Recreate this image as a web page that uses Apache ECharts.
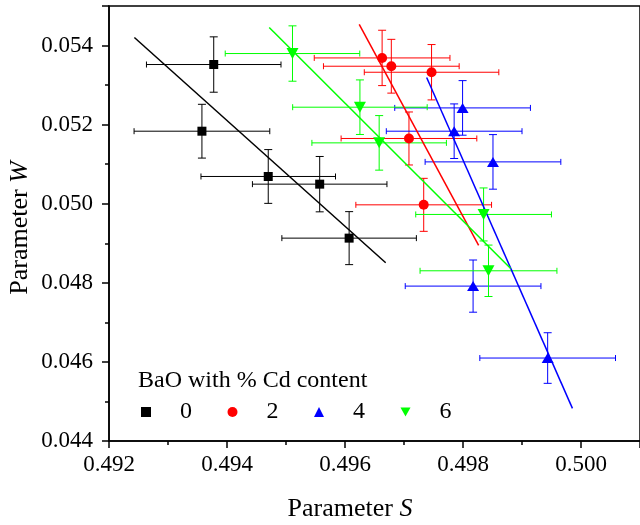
<!DOCTYPE html>
<html>
<head>
<meta charset="utf-8">
<script src="https://cdn.jsdelivr.net/npm/echarts@6/dist/echarts.min.js"></script>
<style>
  html, body { margin: 0; padding: 0; background: #fff; }
  #chart { width: 640px; height: 525px; }
</style>
</head>
<body>
<div id="chart"></div>
<script>
// Cd content groups (wt %) and their colours
const groupNames = ['0', '2', '4', '6'];
const groupColors = ['#000000', '#ff0000', '#0000ff', '#00ff00'];

// 0 % Cd
const s0 = [0.493775, 0.493575, 0.494699, 0.495571, 0.496070];
const w0 = [0.053520, 0.051834, 0.050689, 0.050495, 0.049130];
const sErr0 = [0.00114, 0.00115, 0.00114, 0.00114, 0.00114];
const wErr0 = [0.00070, 0.00068, 0.00068, 0.00070, 0.00067];
const fitS0 = [0.49243, 0.49669];
const fitW0 = [0.054202, 0.048506];

// 2 % Cd
const s2 = [0.496629, 0.496785, 0.497467, 0.497084, 0.497334];
const w2 = [0.053687, 0.053477, 0.053325, 0.051650, 0.049972];
const sErr2 = [0.00115, 0.00115, 0.00114, 0.00115, 0.00115];
const wErr2 = [0.00070, 0.00068, 0.00070, 0.00067, 0.00067];
const fitS2 = [0.496241, 0.498265];
const fitW2 = [0.054538, 0.048946];

// 4 % Cd
const s4 = [0.497993, 0.497850, 0.498508, 0.498171, 0.499435];
const w4 = [0.052423, 0.051834, 0.051058, 0.047917, 0.046098];
const sErr4 = [0.00115, 0.00115, 0.00115, 0.00115, 0.00115];
const wErr4 = [0.00069, 0.00069, 0.00069, 0.00066, 0.00064];
const fitS4 = [0.497384, 0.499855];
const fitW4 = [0.053191, 0.044826];

// 6 % Cd
const s6 = [0.495110, 0.496253, 0.496579, 0.498349, 0.498432];
const w6 = [0.053798, 0.052441, 0.051539, 0.049729, 0.048304];
const sErr6 = [0.00114, 0.00114, 0.00114, 0.00115, 0.00116];
const wErr6 = [0.00070, 0.00069, 0.00069, 0.00067, 0.00065];
const fitS6 = [0.494716, 0.498808];
const fitW6 = [0.054455, 0.048364];

// axis ranges
const sRange = [0.492, 0.501];
const sStep = 0.002;
const wRange = [0.044, 0.055];
const wStep = 0.002;

const groups = [
  { s: s0, w: w0, se: sErr0, we: wErr0, fs: fitS0, fw: fitW0, symbol: 'rect', size: 9 },
  { s: s2, w: w2, se: sErr2, we: wErr2, fs: fitS2, fw: fitW2, symbol: 'circle', size: 10 },
  { s: s4, w: w4, se: sErr4, we: wErr4, fs: fitS4, fw: fitW4, symbol: 'triangle', size: [12, 10] },
  { s: s6, w: w6, se: sErr6, we: wErr6, fs: fitS6, fw: fitW6, symbol: 'path://M0,0L12,0L6,11Z', size: [12, 11] }
];

const FONT = 'Liberation Serif';

function errorBars(color) {
  return function (params, api) {
    const s = api.value(0), w = api.value(1), se = api.value(2), we = api.value(3);
    const c = api.coord([s, w]);
    const l = api.coord([s - se, w]);
    const r = api.coord([s + se, w]);
    const t = api.coord([s, w + we]);
    const b = api.coord([s, w - we]);
    const capH = 3, capW = 4;
    const style = { stroke: color, lineWidth: 1, fill: null };
    const seg = (x1, y1, x2, y2) => ({ type: 'line', shape: { x1, y1, x2, y2 }, style });
    return {
      type: 'group',
      children: [
        seg(l[0], c[1], r[0], c[1]),
        seg(l[0], c[1] - capH, l[0], c[1] + capH),
        seg(r[0], c[1] - capH, r[0], c[1] + capH),
        seg(c[0], t[1], c[0], b[1]),
        seg(c[0] - capW, t[1], c[0] + capW, t[1]),
        seg(c[0] - capW, b[1], c[0] + capW, b[1])
      ]
    };
  };
}

const series = [];
groups.forEach((g, i) => {
  const color = groupColors[i];
  series.push({
    name: 'err ' + groupNames[i],
    type: 'custom',
    renderItem: errorBars(color),
    data: g.s.map((v, k) => [v, g.w[k], g.se[k], g.we[k]]),
    encode: { x: 0, y: 1 },
    z: 2,
    silent: true
  });
});
groups.forEach((g, i) => {
  series.push({
    name: 'fit ' + groupNames[i],
    type: 'line',
    data: g.fs.map((v, k) => [v, g.fw[k]]),
    showSymbol: false,
    lineStyle: { color: groupColors[i], width: 1.5 },
    z: 3,
    silent: true
  });
});
groups.forEach((g, i) => {
  series.push({
    name: groupNames[i],
    type: 'scatter',
    data: g.s.map((v, k) => [v, g.w[k]]),
    symbol: g.symbol,
    symbolSize: g.size,
    itemStyle: { color: groupColors[i], opacity: 1 },
    z: 4
  });
});

const axisCommon = {
  axisLine: { show: true, onZero: false, lineStyle: { color: '#000', width: 1.5 } },
  axisTick: { show: true, inside: false, length: 7, lineStyle: { color: '#000', width: 1.5 } },
  minorTick: { show: true, splitNumber: 2, length: 4, lineStyle: { color: '#000', width: 1.5 } },
  splitLine: { show: false },
  minorSplitLine: { show: false },
  axisLabel: {
    fontFamily: FONT, fontSize: 23, color: '#000',
    showMaxLabel: false,
    formatter: v => v.toFixed(3)
  }
};

const chart = echarts.init(document.getElementById('chart'), null, { renderer: 'canvas' });
chart.setOption({
  animation: false,
  backgroundColor: '#fff',
  grid: {
    left: 109, right: -10, top: 6, bottom: 84,
    show: true, borderColor: '#000', borderWidth: 1.5, backgroundColor: 'transparent'
  },
  xAxis: Object.assign({}, axisCommon, {
    type: 'value', min: sRange[0], max: sRange[1], interval: sStep,
    axisLabel: Object.assign({}, axisCommon.axisLabel, { margin: 12 })
  }),
  yAxis: Object.assign({}, axisCommon, {
    type: 'value', min: wRange[0], max: wRange[1], interval: wStep,
    axisLabel: Object.assign({}, axisCommon.axisLabel, { margin: 16 })
  }),
  title: {
    text: 'BaO with % Cd content',
    left: 138, top: 369, padding: 0,
    textStyle: { fontFamily: FONT, fontSize: 24, fontWeight: 'normal', color: '#000' }
  },
  legend: {
    data: groupNames,
    left: 141, top: 400,
    itemWidth: 10, itemHeight: 10, itemGap: 35.5,
    padding: 0,
    selectedMode: false,
    textStyle: { fontFamily: FONT, fontSize: 24, color: '#000', padding: [0, 0, 0, 24] }
  },
  graphic: [
    {
      type: 'text', x: 350, y: 509,
      style: {
        text: '{n|Parameter }{i|S}',
        align: 'center', verticalAlign: 'middle',
        rich: {
          n: { fontFamily: FONT, fontSize: 26, fill: '#000' },
          i: { fontFamily: FONT, fontSize: 26, fontStyle: 'italic', fill: '#000' }
        }
      }
    },
    {
      type: 'text', x: 20, y: 228, rotation: Math.PI / 2,
      style: {
        text: '{n|Parameter }{i|W}',
        align: 'center', verticalAlign: 'middle',
        rich: {
          n: { fontFamily: FONT, fontSize: 26, fill: '#000' },
          i: { fontFamily: FONT, fontSize: 26, fontStyle: 'italic', fill: '#000' }
        }
      }
    }
  ],
  series: series
});
</script>
</body>
</html>
